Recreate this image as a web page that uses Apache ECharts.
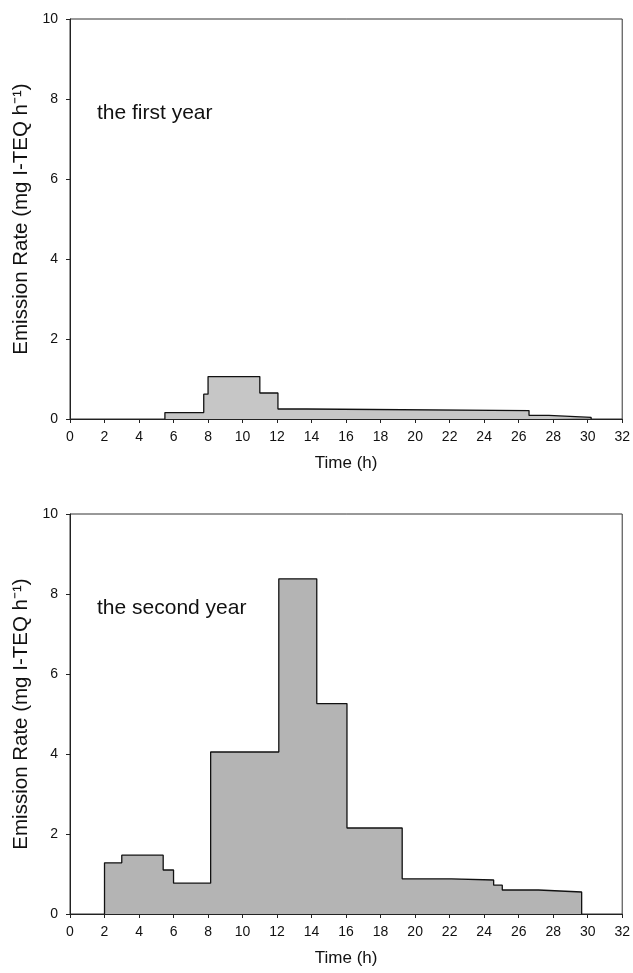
<!DOCTYPE html>
<html>
<head>
<meta charset="utf-8">
<script src="https://cdn.jsdelivr.net/npm/echarts@6/dist/echarts.min.js"></script>
<style>
  html, body { margin: 0; padding: 0; background: #fff; }
  #main { width: 633px; height: 973px; }
</style>
</head>
<body>
<div id="main"></div>
<script>
// step breakpoints (h) and the rate held between consecutive breakpoints
let year1Times = [5.5, 7.75, 8.0, 11.0, 12.05, 13.7, 26.6, 27.75, 30.2];
let year1Rates = [0.16, 0.62, 1.06, 0.65, 0.25, 0.21, 0.09, 0.04];

let year2Times = [2.0, 3.0, 5.4, 6.0, 8.15, 12.1, 14.3, 16.05, 19.25, 22.1, 24.55, 25.05, 27.15, 29.65];
let year2Rates = [1.28, 1.47, 1.1, 0.77, 4.05, 8.38, 5.26, 2.15, 0.88, 0.85, 0.72, 0.6, 0.55];

let xTicks = [0, 32, 2];
let yTicks = [0, 10, 2];

let panelLabels = ['the first year', 'the second year'];
let xTitle = 'Time (h)';
let yTitle = 'Emission Rate (mg I-TEQ h\u207B\u00B9)';

function stepData(times, rates) {
    let pts = [[times[0], 0]];
    for (let i = 0; i < rates.length; i++) {
        pts.push([times[i], rates[i]]);
    }
    let last = times.length - 1;
    pts.push([times[last], rates[rates.length - 1]]);
    pts.push([times[last], 0]);
    return pts;
}

let font = '"Liberation Sans", Arial, sans-serif';

function xAxisOf(idx) {
    return {
        gridIndex: idx,
        type: 'value',
        min: xTicks[0], max: xTicks[1], interval: xTicks[2],
        name: xTitle,
        nameLocation: 'middle',
        nameGap: 36,
        nameTextStyle: { color: '#111', fontSize: 17, fontFamily: font },
        axisLine: { show: true, lineStyle: { color: '#222', width: 1 } },
        axisTick: { show: true, inside: false, length: 4, lineStyle: { color: '#222' } },
        axisLabel: { color: '#111', fontSize: 14, fontFamily: font, margin: 11 },
        splitLine: { show: false }
    };
}

function yAxisOf(idx) {
    return {
        gridIndex: idx,
        type: 'value',
        min: yTicks[0], max: yTicks[1], interval: yTicks[2],
        name: yTitle,
        nameLocation: 'middle',
        nameGap: 35,
        nameTextStyle: { color: '#111', fontSize: 20.5, fontFamily: font },
        axisLine: { show: true, lineStyle: { color: '#222', width: 1 } },
        axisTick: { show: true, inside: false, length: 4, lineStyle: { color: '#222' } },
        axisLabel: { color: '#111', fontSize: 14, fontFamily: font, margin: 12 },
        splitLine: { show: false }
    };
}

let chart = echarts.init(document.getElementById('main'), null, { renderer: 'canvas' });

let option = {
    animation: false,
    backgroundColor: '#fff',
    grid: [
        { left: 70, right: 9, top: 19, height: 400, show: true, borderColor: '#333', borderWidth: 1, backgroundColor: 'transparent' },
        { left: 70, right: 9, top: 514, height: 400, show: true, borderColor: '#333', borderWidth: 1, backgroundColor: 'transparent' }
    ],
    xAxis: [xAxisOf(0), xAxisOf(1)],
    yAxis: [yAxisOf(0), yAxisOf(1)],
    graphic: [
        { type: 'text', left: 97, top: 103, style: { text: panelLabels[0], fill: '#111', fontSize: 21, fontFamily: font } },
        { type: 'text', left: 97, top: 598, style: { text: panelLabels[1], fill: '#111', fontSize: 21, fontFamily: font } }
    ],
    series: [
        {
            type: 'line',
            xAxisIndex: 0, yAxisIndex: 0,
            step: 'end',
            symbol: 'none',
            data: stepData(year1Times, year1Rates),
            lineStyle: { color: '#111', width: 1.3 },
            areaStyle: { color: '#c6c6c6', opacity: 1 }
        },
        {
            type: 'line',
            xAxisIndex: 1, yAxisIndex: 1,
            step: 'end',
            symbol: 'none',
            data: stepData(year2Times, year2Rates),
            lineStyle: { color: '#111', width: 1.3 },
            areaStyle: { color: '#b4b4b4', opacity: 1 }
        }
    ]
};

chart.setOption(option);
</script>
</body>
</html>
